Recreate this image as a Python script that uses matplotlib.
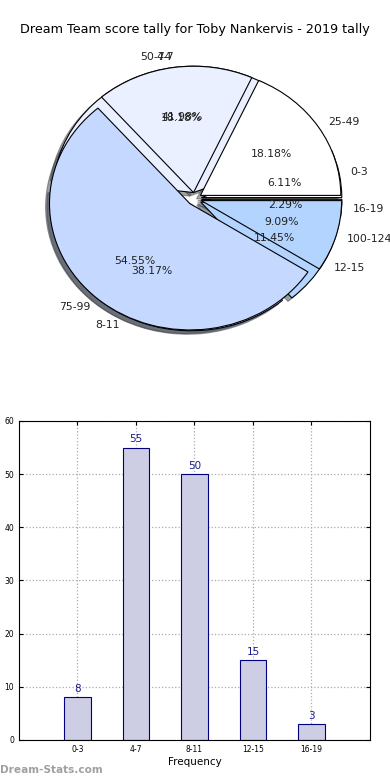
import matplotlib
matplotlib.use("Agg")
import matplotlib.pyplot as plt

# score ranges (fantasy points) - second pie
score_labels = ["25-49", "50-74", "75-99", "100-124"]
score_counts = [2, 2, 6, 1]

# frequency ranges - first pie and bar chart
freq_labels = ["0-3", "4-7", "8-11", "12-15", "16-19"]
freq_counts = [8, 55, 50, 15, 3]

pie_colors = ["#ffffff", "#eaf0ff", "#c5d8ff", "#b3d4ff", "#a2c4ff"]

fig = plt.figure(figsize=(3.9, 7.8), dpi=100)
fig.text(0.5, 1 - 30 / 780, "Dream Team score tally for Toby Nankervis - 2019 tally",
         ha="center", va="center", fontsize=9.2)

ax1 = fig.add_axes([0.0487, 0.5426, 0.9, 0.405])
ax1.pie(freq_counts, labels=freq_labels, colors=pie_colors, autopct="%.2f%%",
        explode=[0.05] * len(freq_counts), shadow=True, labeldistance=1.08,
        wedgeprops={"edgecolor": "black", "linewidth": 0.8},
        textprops={"fontsize": 7.8, "color": "#222222"})
ax1.pie(score_counts, labels=score_labels, colors=pie_colors[:4], autopct="%.2f%%",
        explode=[0.05] * len(score_counts), shadow=True, labeldistance=1.08,
        wedgeprops={"edgecolor": "black", "linewidth": 0.8},
        textprops={"fontsize": 7.8, "color": "#222222"})
ax1.set_aspect("auto")
ax1.set_xlim(-1.25, 1.25)
ax1.set_ylim(-1.25, 1.25)

ax2 = fig.add_axes([0.0487, 0.0513, 0.9, 0.409])
x = range(len(freq_labels))
bars = ax2.bar(x, freq_counts, width=0.45, color="#cdcde4", edgecolor="#000080", linewidth=0.8)
for b, v in zip(bars, freq_counts):
    ax2.text(b.get_x() + b.get_width() / 2, v + 0.6, str(v), ha="center", va="bottom",
             fontsize=7.5, color="#1c1c8f")
ax2.set_xlim(-1, 5)
ax2.set_ylim(0, 60)
ax2.set_xticks(list(x))
ax2.set_xticklabels(freq_labels)
ax2.set_yticks(range(0, 61, 10))
ax2.tick_params(labelsize=5.5, direction="in", top=True, right=True, length=3)
ax2.grid(True, linestyle=":", color="#aaaaaa", linewidth=0.9)
ax2.set_axisbelow(True)
ax2.set_xlabel("Frequency", fontsize=7.5, labelpad=2)

fig.text(0.0, 0.006, "Dream-Stats.com", fontsize=7.6, color="#a0a0a0", fontweight="bold",
         ha="left", va="bottom")

fig.savefig("out.png", dpi=100)
